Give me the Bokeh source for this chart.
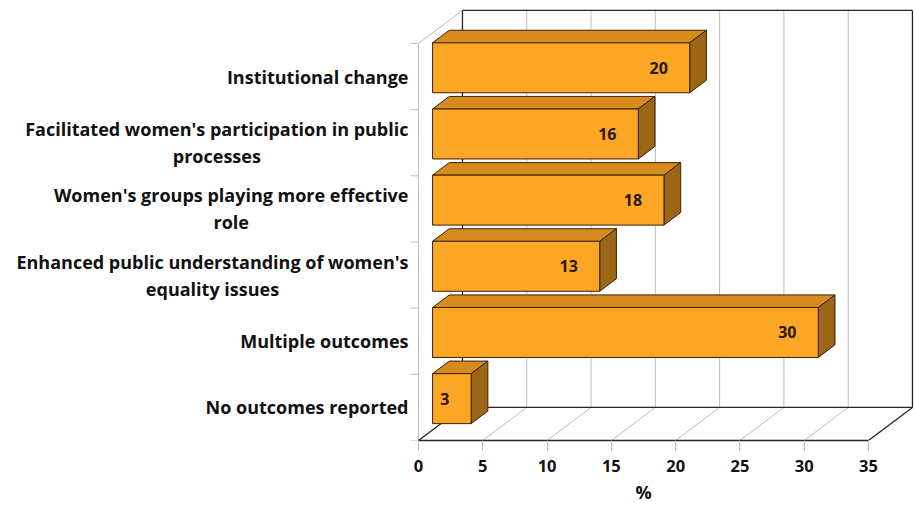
import subprocess
from bokeh.plotting import figure
from bokeh.models import Range1d, FixedTicker, Title
from bokeh.core.properties import value
from bokeh.embed import file_html
from bokeh.resources import INLINE

# --- data -----------------------------------------------------------------
categories = [
    "No outcomes reported",
    "Multiple outcomes",
    "Enhanced public understanding of women's\nequality issues",
    "Women's groups playing more effective\nrole",
    "Facilitated women's participation in public\nprocesses",
    "Institutional change",
]
percent = [3, 30, 13, 18, 16, 20]
x_ticks = [0, 5, 10, 15, 20, 25, 30, 35]
x_max = 35
x_title = "%"

# --- geometry of the pseudo-3D box (data units) ----------------------------
PX_X = 12.857          # pixels per percent
PX_Y = 66.17           # pixels per category slot
ORIGIN_X = 418         # pixel column of the 0 % mark
DEPTH_X = 3.42         # full box depth, x component
DEPTH_Y = 0.50         # full box depth, y component
BAR_D0, BAR_D1 = 0.32, 0.70   # bar front/back as fraction of depth
BAR_GAP, BAR_H = 0.095, 0.755
n = len(categories)

FONT_NAME = "Open Sans"
FONT = value(FONT_NAME)
LABEL_SIZE = 18
TITLE_SIZE = 18
FRONT, TOP, SIDE, EDGE = "#FBA625", "#D78B1F", "#9B6716", "#3A2200"
GRID, DARK = "#BDBDBD", "#262626"


def text_width(s, size):
    """Width of a bold string in pixels, measured with the installed font."""
    try:
        from PIL import ImageFont
        path = subprocess.run(["fc-match", "-f", "%{file}", f"{FONT_NAME}:bold"],
                              capture_output=True, text=True).stdout.strip()
        font = ImageFont.truetype(path, size=int(round(size * 4)))
        try:
            names = [nm.decode() if isinstance(nm, bytes) else nm
                     for nm in font.get_variation_names()]
            if "Bold" in names:
                font.set_variation_by_name("Bold")
        except Exception:
            pass
        return font.getlength(s) / 4
    except Exception:
        return len(s) * 0.6 * size


W, H = 914, 508
p = figure(width=W, height=H, output_backend="svg", toolbar_location=None,
           x_range=Range1d(-ORIGIN_X / PX_X, (W - ORIGIN_X) / PX_X),
           y_range=Range1d(0, 440 / PX_Y),
           min_border_left=0, min_border_right=0, min_border_top=0,
           min_border_bottom=68, y_axis_location=None)
p.outline_line_color = None
p.grid.visible = False
p.background_fill_color = "white"

# x axis on the front edge of the floor
ax = p.xaxis[0]
ax.bounds = (0, x_max)
ax.ticker = FixedTicker(ticks=x_ticks)
ax.minor_tick_line_color = None
ax.major_tick_in = 0
ax.major_tick_out = 10
ax.major_tick_line_color = GRID
ax.axis_line_color = DARK
ax.axis_line_width = 1.3
ax.major_label_standoff = 9
ax.major_label_text_font = FONT_NAME
ax.major_label_text_font_style = "bold"
ax.major_label_text_font_size = "16.5px"
ax.major_label_text_color = "#111111"

# axis title, centred under the 0..35 scale rather than the whole frame
scale_mid_px = ORIGIN_X + PX_X * x_max / 2
p.add_layout(Title(text=x_title, align="left",
                   offset=scale_mid_px - text_width(x_title, TITLE_SIZE) / 2,
                   standoff=6, text_font=FONT_NAME, text_font_style="bold",
                   text_font_size=f"{TITLE_SIZE}px", text_color="#111111"), "below")

# back wall gridlines and floor gridlines
p.segment(x0=[t + DEPTH_X for t in x_ticks[:-1]], x1=[t + DEPTH_X for t in x_ticks[:-1]],
          y0=DEPTH_Y, y1=n + DEPTH_Y, line_color=GRID, line_width=1)
p.segment(x0=x_ticks[1:-1], y0=0, x1=[t + DEPTH_X for t in x_ticks[1:-1]], y1=DEPTH_Y,
          line_color=GRID, line_width=1)

# left side wall with category separators
p.segment(x0=0, y0=0, x1=0, y1=n, line_color=GRID, line_width=1)
p.segment(x0=0, y0=n, x1=DEPTH_X, y1=n + DEPTH_Y, line_color=GRID, line_width=1)
p.segment(x0=-8 / PX_X, x1=0, y0=list(range(n + 1)), y1=list(range(n + 1)),
          line_color=GRID, line_width=1)

# dark box edges
p.segment(x0=[DEPTH_X, DEPTH_X, x_max + DEPTH_X, 0, x_max, DEPTH_X],
          y0=[DEPTH_Y, n + DEPTH_Y, n + DEPTH_Y, 0, 0, DEPTH_Y],
          x1=[x_max + DEPTH_X, x_max + DEPTH_X, x_max + DEPTH_X, DEPTH_X, x_max + DEPTH_X, DEPTH_X],
          y1=[DEPTH_Y, n + DEPTH_Y, DEPTH_Y, DEPTH_Y, DEPTH_Y, n + DEPTH_Y],
          line_color=DARK, line_width=1.3)

# bars, drawn from the back row to the front row
fx0, fy0 = BAR_D0 * DEPTH_X, BAR_D0 * DEPTH_Y
bx, by = (BAR_D1 - BAR_D0) * DEPTH_X, (BAR_D1 - BAR_D0) * DEPTH_Y
for i in reversed(range(n)):
    v = percent[i]
    left, right = fx0, fx0 + v
    bottom = i + BAR_GAP + fy0
    top = bottom + BAR_H
    p.patch(x=[left, right, right + bx, left + bx], y=[top, top, top + by, top + by],
            fill_color=TOP, line_color=EDGE, line_width=1)
    p.patch(x=[right, right + bx, right + bx, right], y=[bottom, bottom + by, top + by, top],
            fill_color=SIDE, line_color=EDGE, line_width=1)
    p.quad(left=left, right=right, bottom=bottom, top=top,
           fill_color=FRONT, line_color=EDGE, line_width=1)

# value labels on the front faces
p.text(x=[fx0 + v - 1.7 for v in percent],
       y=[i + BAR_GAP + fy0 + BAR_H / 2 for i in range(n)],
       text=[str(v) for v in percent], text_align="right", text_baseline="middle",
       text_font=FONT, text_font_style="bold", text_font_size="16px",
       text_color="#2A1800")

# category labels: each block right aligned against the left wall,
# lines inside a block centred on each other
lx, ly, lt, lxo, lyo = [], [], [], [], []
for i, name in enumerate(categories):
    lines = name.split("\n")
    m = len(lines)
    block = max(text_width(s, LABEL_SIZE) for s in lines)
    for j, line in enumerate(lines):
        lx.append(0)
        ly.append(i + 0.5)
        lt.append(line)
        lxo.append(-10 - block / 2)
        lyo.append((j - (m - 1) / 2) * 27)
p.text(x=lx, y=ly, text=lt, x_offset=lxo, y_offset=lyo,
       text_align="center", text_baseline="middle",
       text_font=FONT, text_font_style="bold", text_font_size=f"{LABEL_SIZE}px",
       text_color="#111111")

open("out.html", "w").write(file_html(p, INLINE))
